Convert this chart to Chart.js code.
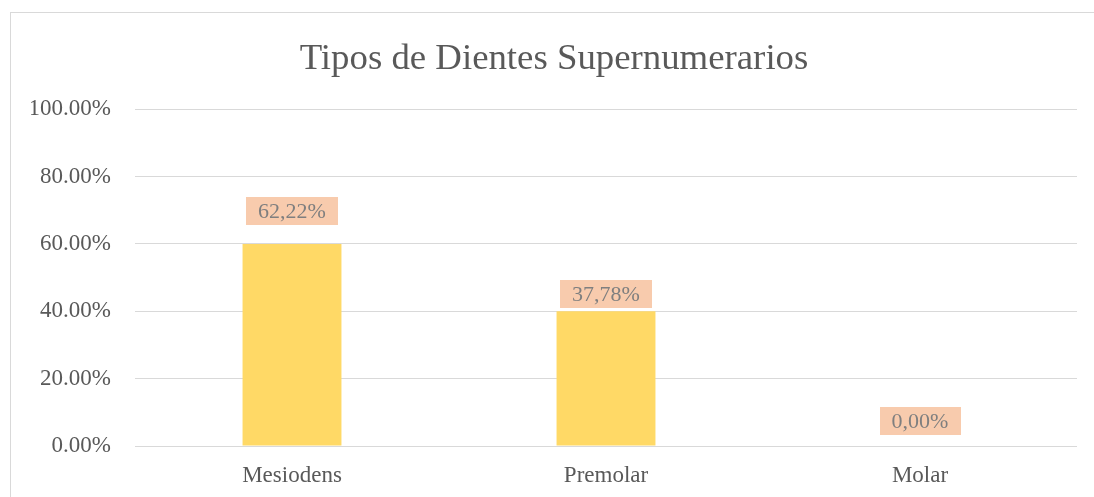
<!DOCTYPE html>
<html>
<head>
<meta charset="utf-8">
<title>Tipos de Dientes Supernumerarios</title>
<script src="https://cdn.jsdelivr.net/npm/chart.js@4/dist/chart.umd.min.js"></script>
<style>
    html, body { margin: 0; padding: 0; background: #ffffff; overflow: hidden; }
    #wrap { width: 1094px; height: 497px; position: relative; }
</style>
</head>
<body>
<div id="wrap"><canvas id="chart"></canvas></div>
<script>
    // Chart data
    const categories = ['Mesiodens', 'Premolar', 'Molar'];
    const barValues = [60, 40, 0];              // bar heights as drawn
    const percentLabels = [62.22, 37.78, 0.00]; // values shown in the labels
    const yTicks = [0, 20, 40, 60, 80, 100];

    const textColor = '#595959';
    const gridColor = '#d9d9d9';
    const serif = '"Liberation Serif", "Times New Roman", serif';

    // Frame around the chart
    const framePlugin = {
        id: 'frame',
        beforeDraw(chart) {
            const ctx = chart.ctx;
            ctx.save();
            ctx.strokeStyle = gridColor;
            ctx.lineWidth = 1;
            ctx.strokeRect(10.5, 12.5, chart.width + 20, chart.height + 20);
            ctx.restore();
        }
    };

    // Excel style data labels with filled box
    const boxLabelsPlugin = {
        id: 'boxLabels',
        afterDatasetsDraw(chart) {
            const ctx = chart.ctx;
            const meta = chart.getDatasetMeta(0);
            const yScale = chart.scales.y;
            ctx.save();
            ctx.font = '22px ' + serif;
            ctx.textAlign = 'center';
            ctx.textBaseline = 'middle';
            meta.data.forEach((bar, i) => {
                const text = percentLabels[i].toFixed(2).replace('.', ',') + '%';
                const w = ctx.measureText(text).width + 24;
                const h = 28;
                const bottom = yScale.getPixelForValue(percentLabels[i]) - 11;
                ctx.fillStyle = '#f8cbad';
                ctx.fillRect(Math.round(bar.x - w / 2), Math.round(bottom - h), Math.round(w), h);
                ctx.fillStyle = '#7f7f7f';
                ctx.fillText(text, bar.x, bottom - h / 2 + 1);
            });
            ctx.restore();
        }
    };

    const ctx = document.getElementById('chart').getContext('2d');
    new Chart(ctx, {
        type: 'bar',
        data: {
            labels: categories,
            datasets: [{
                data: barValues,
                backgroundColor: '#ffd966',
                borderWidth: 0,
                categoryPercentage: 1,
                barPercentage: 0.315
            }]
        },
        options: {
            responsive: true,
            maintainAspectRatio: false,
            animation: false,
            layout: {
                padding: { top: 37, right: 17, bottom: 0, left: 31 }
            },
            plugins: {
                legend: { display: false },
                tooltip: { enabled: false },
                title: {
                    display: true,
                    text: 'Tipos de Dientes Supernumerarios',
                    color: textColor,
                    font: { family: serif, size: 36.8, weight: 'normal' },
                    padding: { top: 0, bottom: 28 }
                }
            },
            scales: {
                x: {
                    grid: { display: false, drawTicks: false },
                    border: { display: false },
                    afterFit: function(scale) {
                        scale.height = 51;
                    },
                    ticks: {
                        color: textColor,
                        padding: 16,
                        font: { family: serif, size: 23 }
                    }
                },
                y: {
                    min: 0,
                    max: 100,
                    afterBuildTicks: function(scale) {
                        scale.ticks = yTicks.map(v => ({ value: v }));
                    },
                    afterFit: function(scale) {
                        scale.width = 104;
                    },
                    grid: { color: gridColor, drawTicks: false },
                    border: { display: false },
                    ticks: {
                        color: textColor,
                        padding: 24,
                        font: { family: serif, size: 23 },
                        callback: function(value) {
                            return value.toFixed(2) + '%';
                        }
                    }
                }
            }
        },
        plugins: [framePlugin, boxLabelsPlugin]
    });
</script>
</body>
</html>
